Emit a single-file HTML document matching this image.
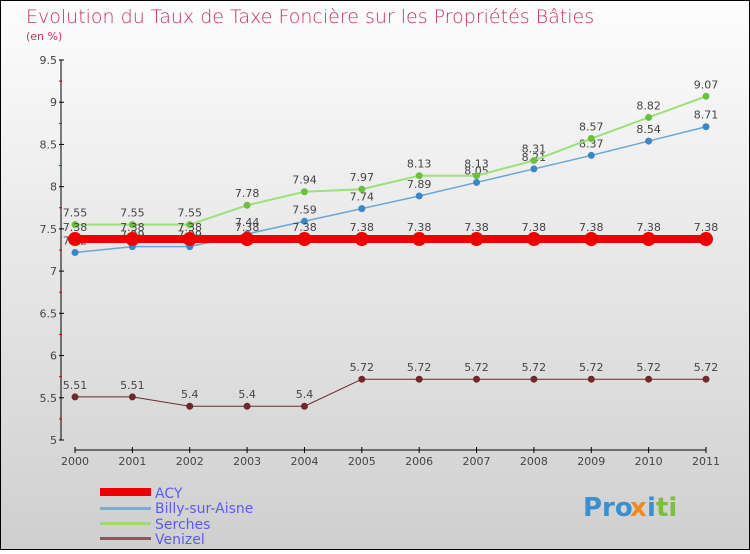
<!DOCTYPE html>
<html><head><meta charset="utf-8"><style>
body{margin:0}
#c{width:750px;height:550px;position:relative;font-family:"DejaVu Sans","Liberation Sans",sans-serif}
</style></head><body>
<div id="c">
<svg id="s" width="750" height="550" xmlns="http://www.w3.org/2000/svg">
<defs><linearGradient id="bg" x1="0" y1="0" x2="0" y2="1"><stop offset="0" stop-color="#fdfdfd"/><stop offset="1" stop-color="#cfcfcf"/></linearGradient></defs>
<rect x="0.5" y="0.5" width="749" height="549" fill="url(#bg)" stroke="#000"/>
<text x="26" y="23" font-size="19" fill="#c8315e" style="font-weight:200">Evolution du Taux de Taxe Foncière sur les Propriétés Bâties</text>
<text x="26" y="40" font-size="11" fill="#c8315e">(en %)</text>
<g id="axes"></g><g id="series"></g>
<g>
<rect x="100" y="488" width="51" height="8" fill="#e00"/>
<text x="155" y="498" font-size="14" fill="#5a5aff">ACY</text>
<rect x="100" y="507" width="51" height="3" fill="#7aaed0"/>
<text x="155" y="513" font-size="14" fill="#5a5aff">Billy-sur-Aisne</text>
<rect x="100" y="522" width="51" height="3" fill="#9ed87a"/>
<text x="155" y="529" font-size="14" fill="#5a5aff">Serches</text>
<rect x="100" y="537" width="51" height="3" fill="#8a5a5a"/>
<text x="155" y="544" font-size="14" fill="#5a5aff">Venizel</text>
</g>
<g font-size="26" font-weight="bold">
<text x="583" y="516" fill="#3a8fd0">Pro</text><text x="630" y="516" fill="#f08a20">x</text><text x="647" y="516" fill="#3a8fd0">i</text><text x="656" y="516" fill="#7ac03a">ti</text>
</g>
</svg></div>
<script>
const years=[2000,2001,2002,2003,2004,2005,2006,2007,2008,2009,2010,2011];
const acy=[7.38,7.38,7.38,7.38,7.38,7.38,7.38,7.38,7.38,7.38,7.38,7.38];
const billy=[7.22,7.29,7.29,7.44,7.59,7.74,7.89,8.05,8.21,8.37,8.54,8.71];
const serches=[7.55,7.55,7.55,7.78,7.94,7.97,8.13,8.13,8.31,8.57,8.82,9.07];
const venizel=[5.51,5.51,5.4,5.4,5.4,5.72,5.72,5.72,5.72,5.72,5.72,5.72];
const yTicks=[5,5.5,6,6.5,7,7.5,8,8.5,9,9.5];
const NS="http://www.w3.org/2000/svg";
const X=i=>75+i*(706-75)/(years.length-1);
const Y=v=>440-(v-5)*(380/4.5);
function mk(tag,attrs,parent){const e=document.createElementNS(NS,tag);for(const k in attrs)e.setAttribute(k,attrs[k]);parent.appendChild(e);return e;}
const ax=document.getElementById('axes'),sg=document.getElementById('series');
let l=mk('line',{x1:61,y1:Y(9.5),x2:61,y2:440,stroke:'#000'},ax);


yTicks.forEach(t=>{
 mk('line',{x1:59,x2:64,y1:Y(t),y2:Y(t),stroke:'#000'},ax);
 if(t<9.5)mk('line',{x1:59,x2:62,y1:Y(t+0.25),y2:Y(t+0.25),stroke:'#d00'},ax);
 const tx=mk('text',{x:57,y:Y(t)+4,'font-size':11,fill:'#444','text-anchor':'end'},ax);
 tx.textContent=String(t);
 
 
});
l=mk('line',{x1:75,y1:450,x2:706,y2:450,stroke:'#000'},ax);


years.forEach((yr,i)=>{
 mk('line',{x1:X(i),x2:X(i),y1:447,y2:453,stroke:'#000'},ax);
 const tx=mk('text',{x:X(i),y:465,'font-size':11,fill:'#444','text-anchor':'middle'},ax);
 tx.textContent=String(yr);
 
 
});
function series(name,vals,col,w,r,dot,lblCol){
 const g=mk('g',{},sg);
 
 
 mk('polyline',{points:vals.map((v,i)=>X(i)+','+Y(v)).join(' '),fill:'none',stroke:col,'stroke-width':w},g);
 vals.forEach((v,i)=>{
  const c=mk('circle',{cx:X(i),cy:Y(v),r:r,fill:dot},g);
  
  
  const t=mk('text',{x:X(i),y:Y(v)-8,'font-size':11,fill:'#444','text-anchor':'middle'},g);
  t.textContent=String(v);
 });
}
series('venizel',venizel,'#6e2a2a',1,3.5,'#6e2a2a');
series('billy',billy,'#6aa6d8',1.5,3.5,'#3a86c8');
series('serches',serches,'#9ee07a',2,3.5,'#6cc040');
series('acy',acy,'#ee0000',8,7,'#ee0000');
</script>
</body></html>
